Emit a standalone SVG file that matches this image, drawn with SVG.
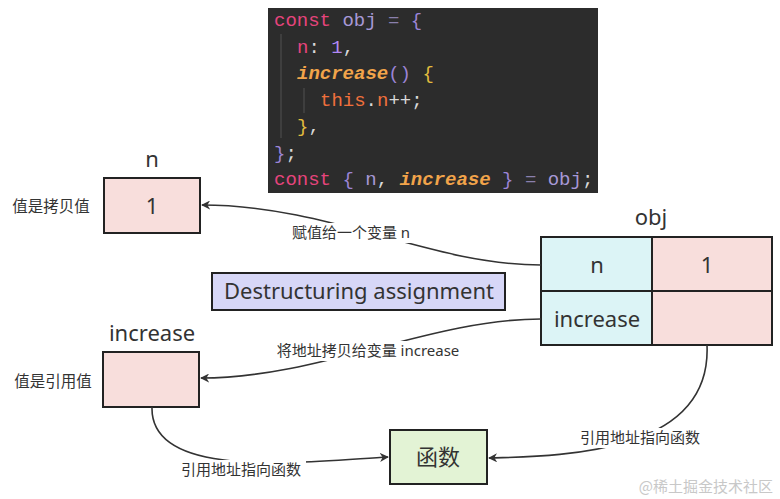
<svg xmlns="http://www.w3.org/2000/svg" width="780" height="499" viewBox="0 0 780 499">
<defs>
<style>
.box{stroke:#222;stroke-width:2}
.t{font-family:"Noto Sans","Noto Sans CJK SC",sans-serif;fill:#333}
.lbl{font-size:15px}
.side{font-size:15.5px}
.big{font-size:22px}
.code{font-family:"Liberation Mono","DejaVu Sans Mono",monospace;font-size:19px}
.edge{fill:none;stroke:#333;stroke-width:1.6}
.kw{fill:#e6447c}.id{fill:#a798d6}.op{fill:#8a80ad}.pu{fill:#9b84d6}.ye{fill:#e2bc3e}.fn{fill:#f2a44a;font-weight:bold;font-style:italic}.nu{fill:#b288f5}.th{fill:#f0703c}.wh{fill:#d8d8d8}
</style>
<marker id="arr" viewBox="0 0 10 10" refX="9" refY="5" markerWidth="9" markerHeight="9" markerUnits="userSpaceOnUse" orient="auto">
<path d="M0,0 L10,5 L0,10 L3,5 z" fill="#333"/>
</marker>
</defs>
<rect width="780" height="499" fill="#ffffff"/>

<g id="code">
<rect x="268" y="8" width="330" height="185" fill="#2c2c2c"/>
<line x1="281" y1="34" x2="281" y2="138" stroke="#444" stroke-width="1.5"/>
<line x1="304" y1="88" x2="304" y2="113" stroke="#444" stroke-width="1.5"/>
<text class="code" x="274" y="26"><tspan class="kw">const</tspan> <tspan class="id">obj</tspan> <tspan class="op">=</tspan> <tspan class="pu">{</tspan></text>
<text class="code" x="297" y="53"><tspan class="kw">n</tspan><tspan class="wh">:</tspan> <tspan class="nu">1</tspan><tspan class="wh">,</tspan></text>
<text class="code" x="297" y="79"><tspan class="fn">increase</tspan><tspan class="pu">()</tspan> <tspan class="ye">{</tspan></text>
<text class="code" x="320" y="106"><tspan class="th">this</tspan><tspan class="wh">.</tspan><tspan class="th">n</tspan><tspan class="wh">++;</tspan></text>
<text class="code" x="297" y="132"><tspan class="ye">}</tspan><tspan class="wh">,</tspan></text>
<text class="code" x="274" y="159"><tspan class="pu">}</tspan><tspan class="wh">;</tspan></text>
<text class="code" x="274" y="185"><tspan class="kw">const</tspan> <tspan class="pu">{</tspan> <tspan class="id">n</tspan><tspan class="wh">,</tspan> <tspan class="fn">increase</tspan> <tspan class="pu">}</tspan> <tspan class="op">=</tspan> <tspan class="id">obj</tspan><tspan class="wh">;</tspan></text>
</g>

<g id="node-n">
<text class="t big" x="152" y="167" text-anchor="middle">n</text>
<rect class="box" x="104" y="178" width="96" height="55" fill="#f8dedc"/>
<text class="t big" x="152" y="214" text-anchor="middle">1</text>
<text class="t side" x="51" y="212" text-anchor="middle">值是拷贝值</text>
</g>

<g id="node-obj">
<text class="t big" x="651" y="225" text-anchor="middle">obj</text>
<rect x="541" y="237" width="111" height="54" fill="#dcf4f6"/>
<rect x="541" y="291" width="111" height="54" fill="#dcf4f6"/>
<rect x="652" y="237" width="120" height="54" fill="#f8dedc"/>
<rect x="652" y="291" width="120" height="54" fill="#f8dedc"/>
<rect class="box" x="541" y="237" width="231" height="108" fill="none"/>
<line class="box" x1="652" y1="237" x2="652" y2="345"/>
<line class="box" x1="541" y1="291" x2="772" y2="291"/>
<text class="t big" x="597" y="273" text-anchor="middle">n</text>
<text class="t big" x="707" y="273" text-anchor="middle">1</text>
<text class="t big" x="597" y="327" text-anchor="middle">increase</text>
</g>

<g id="node-destructuring">
<rect class="box" x="212" y="273" width="293" height="37" fill="#d7d7f7"/>
<text class="t big" x="359" y="299" text-anchor="middle">Destructuring assignment</text>
</g>

<g id="node-increase">
<text class="t big" x="152" y="341" text-anchor="middle">increase</text>
<rect class="box" x="103" y="352" width="96" height="55" fill="#f8dedc"/>
<text class="t side" x="53" y="387" text-anchor="middle">值是引用值</text>
</g>

<g id="node-func">
<rect class="box" x="390" y="430" width="97" height="54" fill="#e3f3d5"/>
<text class="t big" x="438" y="465" text-anchor="middle">函数</text>
</g>

<g id="connectors">
<path class="edge" d="M541,265 C430,265 330,205 202,205" marker-end="url(#arr)"/>
<path class="edge" d="M541,319 C430,319 320,378 201,378" marker-end="url(#arr)"/>
<path class="edge" d="M152,407 C150,480 300,462 388,457" marker-end="url(#arr)"/>
<path class="edge" d="M707,345 C712,455 560,456 489,458" marker-end="url(#arr)"/>
<rect x="283" y="223" width="136" height="20" fill="#fff"/>
<text class="t lbl" x="351" y="238" text-anchor="middle">赋值给一个变量 n</text>
<rect x="262" y="341" width="214" height="20" fill="#fff"/>
<text class="t lbl" x="368" y="356" text-anchor="middle">将地址拷贝给变量 increase</text>
<rect x="176" y="460" width="130" height="20" fill="#fff"/>
<text class="t lbl" x="241" y="475" text-anchor="middle">引用地址指向函数</text>
<rect x="574" y="428" width="132" height="20" fill="#fff"/>
<text class="t lbl" x="640" y="443" text-anchor="middle">引用地址指向函数</text>
</g>

<text x="773" y="492" text-anchor="end" style="font-family:'Noto Sans CJK SC',sans-serif;font-size:15px;fill:#c8c8c8">@稀土掘金技术社区</text>
</svg>
